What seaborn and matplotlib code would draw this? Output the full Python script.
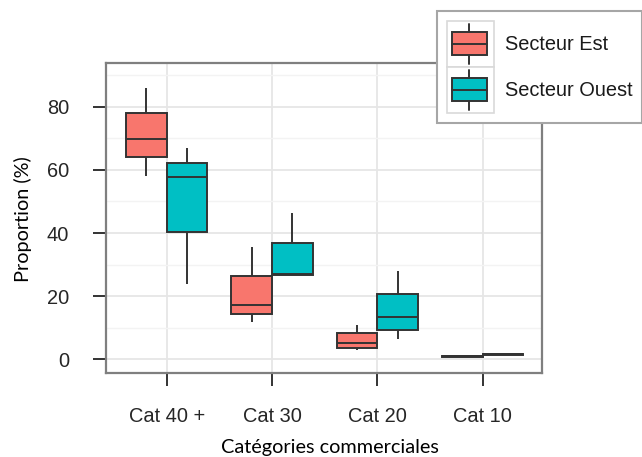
import numpy as np
import pandas as pd
import matplotlib
matplotlib.use("Agg")
import matplotlib.pyplot as plt
import seaborn as sns
from matplotlib.legend_handler import HandlerBase
from matplotlib.patches import Rectangle, Patch
from matplotlib.lines import Line2D

# ---------------- data ----------------
categories = ["Cat 40 +", "Cat 30", "Cat 20", "Cat 10"]
sectors = ["Secteur Est", "Secteur Ouest"]
# five-number summaries per category: (min, Q1, median, Q3, max)
est_summary = [
    [58.1, 64.0, 69.8, 78.1, 85.8],
    [11.8, 14.4, 17.1, 26.5, 35.7],
    [2.9, 3.7, 5.1, 8.2, 10.9],
    [0.8, 0.9, 0.95, 1.05, 1.1],
]
ouest_summary = [
    [23.8, 40.4, 57.8, 62.1, 66.8],
    [26.6, 26.6, 27.0, 36.7, 46.4],
    [6.6, 9.4, 13.3, 20.8, 28.0],
    [1.5, 1.55, 1.6, 1.65, 1.7],
]
y_ticks = [0, 20, 40, 60, 80]
y_minor = [10, 30, 50, 70, 90]
colors = ["#F8766D", "#00BFC4"]

rows = []
for sect, summ in zip(sectors, [est_summary, ouest_summary]):
    for cat, vals in zip(categories, summ):
        for v in vals:
            rows.append({"cat": cat, "sect": sect, "val": v})
df = pd.DataFrame(rows)

# ---------------- style ----------------
sns.set_theme(style="white")
plt.rcParams["font.family"] = ["Liberation Sans", "DejaVu Sans"]

W, H = 642, 457
fig = plt.figure(figsize=(W / 100, H / 100), dpi=100)
fig.patch.set_facecolor("white")
ax = fig.add_axes([106 / W, 1 - 373 / H, 436 / W, 310 / H])

sns.boxplot(
    data=df, x="cat", y="val", hue="sect",
    order=categories, hue_order=sectors, palette=colors,
    width=0.77, gap=0, whis=(0, 100), showfliers=False, showcaps=False,
    linecolor="#333333", linewidth=1.4, saturation=1, legend=False, ax=ax,
)

ax.set_xlim(-0.576, 3.564)
ax.set_ylim(-4.3, 93.8)
ax.set_yticks(y_ticks)
ax.set_yticks(y_minor, minor=True)
ax.set_axisbelow(True)
ax.grid(True, which="major", color="#E6E6E6", linewidth=1.3)
ax.grid(True, which="minor", axis="y", color="#F3F3F3", linewidth=1.0)
ax.tick_params(which="minor", length=0)

for sp in ax.spines.values():
    sp.set_visible(True)
    sp.set_color("#7F7F7F")
    sp.set_linewidth(1.6)

ax.tick_params(axis="both", which="major", length=9.4, width=1.4,
               color="#333333", labelsize=14.4, labelcolor="#262626")
ax.tick_params(axis="y", pad=17.2, left=True)
ax.tick_params(axis="x", pad=14.8, bottom=True)

lab_font = ["Lato", "DejaVu Sans"]
ax.set_xlabel("Catégories commerciales", family=lab_font, fontsize=14.3, color="black")
ax.set_ylabel("Proportion (%)", family=lab_font, fontsize=14.3, color="black")
ax.xaxis.label.set(va="center", ha="center")
ax.yaxis.label.set(va="center", ha="center")
ax.xaxis.set_label_coords((330 - 106) / 436, (373 - 448) / 310)
ax.yaxis.set_label_coords((23 - 106) / 436, (373 - 219) / 310)


# ---------------- legend ----------------
class BoxKeyHandler(HandlerBase):
    def create_artists(self, legend, orig_handle, xdescent, ydescent,
                       width, height, fontsize, trans):
        x0, y0 = -xdescent, -ydescent
        fc = orig_handle.get_facecolor()
        bg = Rectangle((x0, y0), width, height, facecolor="white",
                       edgecolor="#D9D9D9", linewidth=1.2, transform=trans)
        cx = x0 + width * 0.48
        wl = Line2D([cx, cx], [y0 + 0.07 * height, y0 + 0.93 * height],
                    color="#333333", linewidth=1.4, transform=trans)
        bw = width * 0.75
        box = Rectangle((cx - bw / 2, y0 + 0.26 * height), bw, 0.49 * height,
                        facecolor=fc, edgecolor="#333333", linewidth=1.4,
                        transform=trans)
        med = Line2D([cx - bw / 2, cx + bw / 2], [y0 + 0.5 * height] * 2,
                     color="#333333", linewidth=1.4, transform=trans)
        return [bg, wl, box, med]


handles = [Patch(facecolor=c) for c in colors]
leg = fig.legend(
    handles, sectors, loc="upper left",
    bbox_to_anchor=(436.7 / W, 1 - 11 / H), bbox_transform=fig.transFigure,
    handler_map={Patch: BoxKeyHandler()},
    fontsize=14.4, frameon=True, fancybox=False, framealpha=1,
    edgecolor="#A6A6A6", borderpad=0.5, borderaxespad=0,
    handlelength=2.35, handleheight=3.16, handletextpad=0.55, labelspacing=0,
)
leg.get_frame().set_linewidth(1.5)
for t in leg.get_texts():
    t.set_color("#1a1a1a")

fig.savefig("out.png", dpi=100, facecolor="white")
